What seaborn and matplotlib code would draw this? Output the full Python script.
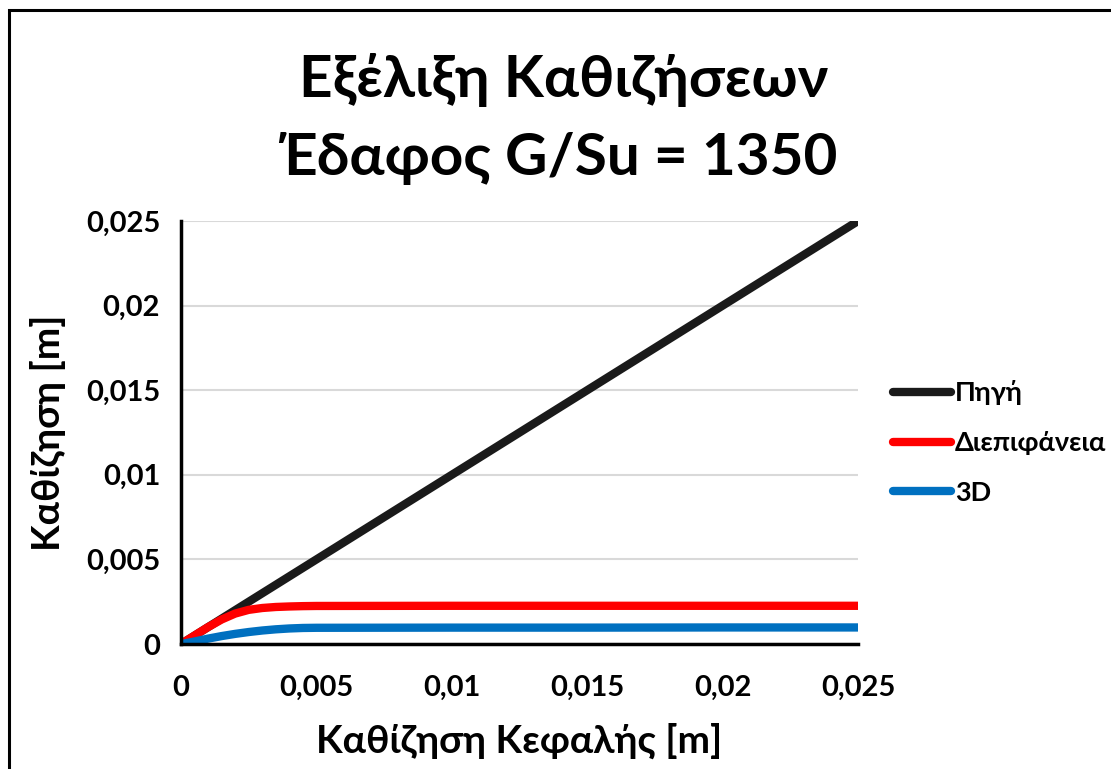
import numpy as np
import pandas as pd
import matplotlib
matplotlib.use("Agg")
import matplotlib.pyplot as plt
import seaborn as sns
from matplotlib.patches import Rectangle
from matplotlib.ticker import FuncFormatter

# Head settlement (x) and settlements of the three models (y), in metres
head_settlement = [0.0, 0.0005, 0.001, 0.0015, 0.002, 0.0025, 0.003, 0.0035, 0.004,
                   0.0045, 0.005, 0.01, 0.015, 0.02, 0.025]
source = [0.0, 0.0005, 0.001, 0.0015, 0.002, 0.0025, 0.003, 0.0035, 0.004,
          0.0045, 0.005, 0.01, 0.015, 0.02, 0.025]
interface = [0.0, 0.0005, 0.001, 0.00145, 0.0018, 0.00202, 0.00213, 0.00219, 0.00222,
             0.00224, 0.00225, 0.00226, 0.00226, 0.00226, 0.00226]
model_3d = [0.0, 0.00015, 0.00032, 0.00047, 0.0006, 0.00071, 0.0008, 0.00087, 0.00092,
            0.00095, 0.00096, 0.00097, 0.00097, 0.00098, 0.00098]

series_names = ["Πηγή", "Διεπιφάνεια", "3D"]
series_colors = ["#1a1a1a", "#ff0000", "#0070c0"]

title_lines = ["Εξέλιξη Καθιζήσεων", "Έδαφος G/Su = 1350"]
x_label = "Καθίζηση Κεφαλής [m]"
y_label = "Καθίζηση [m]"
tick_values = [0, 0.005, 0.01, 0.015, 0.02, 0.025]

df = pd.DataFrame({
    "x": head_settlement * 3,
    "y": source + interface + model_3d,
    "series": sum([[n] * len(head_settlement) for n in series_names], []),
})

sns.set_theme(style="white")
plt.rcParams["font.family"] = ["Lato", "DejaVu Sans"]
plt.rcParams["font.weight"] = "bold"
plt.rcParams["text.color"] = "black"
plt.rcParams["axes.labelcolor"] = "black"
plt.rcParams["xtick.color"] = "black"
plt.rcParams["ytick.color"] = "black"

fig = plt.figure(figsize=(11.11, 7.69), dpi=100)
ax = fig.add_axes([0.1629, 0.1625, 0.6094, 0.5501])

sns.lineplot(data=df, x="x", y="y", hue="series", hue_order=series_names,
             palette=series_colors, linewidth=6.0, ax=ax, legend=True,
             solid_capstyle="round", solid_joinstyle="round", zorder=3)

ax.set_xlim(0, 0.025)
ax.set_ylim(0, 0.025)
ax.set_xticks(tick_values)
ax.set_yticks(tick_values)
fmt = FuncFormatter(lambda v, p: ("0" if v == 0 else f"{v:g}".replace(".", ",")))
ax.xaxis.set_major_formatter(fmt)
ax.yaxis.set_major_formatter(fmt)
ax.tick_params(axis="x", length=0, labelsize=21, pad=22)
ax.tick_params(axis="y", length=0, labelsize=21, pad=15)
for lab in ax.get_xticklabels() + ax.get_yticklabels():
    lab.set_fontweight("bold")

ax.grid(axis="y", color="#d9d9d9", linewidth=1.5)
ax.set_axisbelow(True)
for side in ["top", "right"]:
    ax.spines[side].set_visible(False)
for side in ["left", "bottom"]:
    ax.spines[side].set_color("black")
    ax.spines[side].set_linewidth(2.5)
    ax.spines[side].set_zorder(4)

ax.set_xlabel(x_label, fontsize=28, fontweight="bold", labelpad=16)
ax.set_ylabel(y_label, fontsize=28, fontweight="bold", labelpad=14)

fig.text(0.507, 1 - 97 / 769, title_lines[0], ha="center", va="baseline",
         fontsize=42, fontweight="bold")
fig.text(0.502, 1 - 175 / 769, title_lines[1], ha="center", va="baseline",
         fontsize=42, fontweight="bold")

leg = ax.legend(loc="center left", bbox_to_anchor=(1.052, 0.476), frameon=False,
                handlelength=2.15, handletextpad=0.12, labelspacing=0.95,
                borderpad=0, borderaxespad=0,
                prop={"weight": "bold", "size": 19.5})
for line in leg.get_lines():
    line.set_linewidth(6.0)
    line.set_solid_capstyle("round")

# Frame around the chart area
fig.patches.append(Rectangle((0.0078, -0.05), 1.1, 1.037, transform=fig.transFigure,
                             fill=False, edgecolor="black", linewidth=2.2))

fig.savefig("out.png", dpi=100)
